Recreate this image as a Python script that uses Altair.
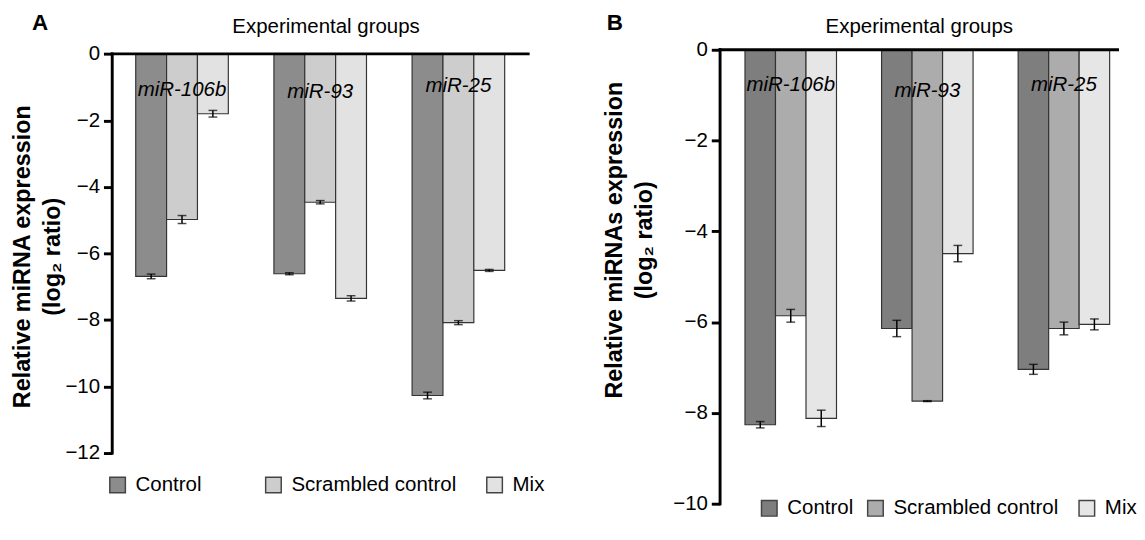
import altair as alt
import pandas as pd

groups = ["miR-106b", "miR-93", "miR-25"]
treatments = ["Control", "Scrambled control", "Mix"]

# Panel A values (log2 ratio) and error half-widths
a_control = [-6.69, -6.61, -10.27]
a_scrambled = [-4.98, -4.46, -8.08]
a_mix = [-1.80, -7.35, -6.51]
a_control_err = [0.07, 0.03, 0.10]
a_scrambled_err = [0.12, 0.05, 0.06]
a_mix_err = [0.10, 0.08, 0.03]
a_label_y = [-1.10, -1.16, -0.96]
a_ticks = [0, -2, -4, -6, -8, -10, -12]

# Panel B values (log2 ratio) and error half-widths
b_control = [-8.26, -6.14, -7.04]
b_scrambled = [-5.86, -7.74, -6.14]
b_mix = [-8.12, -4.49, -6.05]
b_control_err = [0.07, 0.18, 0.11]
b_scrambled_err = [0.14, 0.01, 0.14]
b_mix_err = [0.18, 0.18, 0.12]
b_label_y = [-0.79, -0.91, -0.79]
b_ticks = [0, -2, -4, -6, -8, -10]

a_colors = ["#8c8c8c", "#cdcdcd", "#e2e2e2"]
b_colors = ["#7e7e7e", "#acacac", "#e6e6e6"]

FONT = "Liberation Sans"
NB = "\u00a0"
ZW = "\u200b"


def make_df(ctrl, scr, mix, ce, se, me):
    rows = []
    for vals, errs, t in ((ctrl, ce, treatments[0]), (scr, se, treatments[1]), (mix, me, treatments[2])):
        for g, v, e in zip(groups, vals, errs):
            rows.append({"group": g, "treatment": t, "value": v, "lo": v - e, "hi": v + e})
    return pd.DataFrame(rows)


def panel(df, label_y, colors, ymin, ymax, yticks, ytitle, width, height, xscale,
          ytitle_x, ytitle_y, xtitle_x, xtitle_y, letter, letter_x, letter_y,
          legend_x, legend_y, col_pad, label_expr):
    yscale = alt.Scale(domain=[ymin, ymax], nice=False, zero=False)
    yaxis = alt.Axis(values=yticks, grid=False, domain=False,
                     tickColor="black", tickWidth=3, tickSize=9, labelFontSize=21,
                     labelPadding=4, labelColor="black", labelFont=FONT,
                     title=ytitle, titleFontSize=24, titleFontWeight="bold",
                     titleLineHeight=31, titleX=ytitle_x, titleY=ytitle_y,
                     titleColor="black", titleFont=FONT)
    xaxis = alt.Axis(orient="top", labels=False, ticks=False, domain=False,
                     title="Experimental groups", titleFontSize=21,
                     titleFontWeight="normal", titleX=xtitle_x, titleY=xtitle_y,
                     titleColor="black", titleFont=FONT)
    x = alt.X("group:N", sort=groups, scale=xscale, axis=xaxis)
    xo = alt.XOffset("treatment:N", sort=treatments,
                     scale=alt.Scale(paddingInner=0, paddingOuter=0))
    color = alt.Color("treatment:N", sort=treatments,
                      scale=alt.Scale(domain=treatments, range=colors),
                      legend=alt.Legend(orient="none", legendX=legend_x, legendY=legend_y,
                                        direction="horizontal", title=None,
                                        symbolType="square", symbolSize=256,
                                        symbolStrokeColor="#444444", symbolStrokeWidth=1.5,
                                        labelFontSize=21, labelColor="black",
                                        labelFont=FONT, labelLimit=400,
                                        labelExpr=label_expr,
                                        columnPadding=col_pad, labelOffset=8, padding=0))
    base = alt.Chart(df)
    bars = base.mark_bar(stroke="#333333", strokeWidth=1.2).encode(
        x=x, xOffset=xo,
        y=alt.Y("value:Q", scale=yscale, axis=yaxis), y2=alt.datum(0), color=color)
    rules = base.mark_rule(color="black", strokeWidth=1.5).encode(
        x=x, xOffset=xo, y=alt.Y("lo:Q", scale=yscale, axis=yaxis), y2="hi:Q")
    cap_lo = base.mark_tick(orient="horizontal", size=9, thickness=1.5, color="black").encode(
        x=x, xOffset=xo, y=alt.Y("lo:Q", scale=yscale, axis=yaxis))
    cap_hi = base.mark_tick(orient="horizontal", size=9, thickness=1.5, color="black").encode(
        x=x, xOffset=xo, y=alt.Y("hi:Q", scale=yscale, axis=yaxis))
    lab_df = pd.DataFrame({"group": groups, "label_y": label_y})
    labels = alt.Chart(lab_df).mark_text(fontStyle="italic", fontSize=21, font=FONT,
                                         color="black", baseline="middle").encode(
        x=x, y=alt.Y("label_y:Q", scale=yscale, axis=yaxis), text="group:N")
    one = pd.DataFrame({"letter": [letter]})
    top_line = alt.Chart(one).mark_rule(color="black", strokeWidth=3,
                                        strokeCap="square").encode(y=alt.datum(0))
    left_line = alt.Chart(one).mark_rule(color="black", strokeWidth=3,
                                         strokeCap="square").encode(
        x=alt.value(0), y=alt.datum(0), y2=alt.datum(ymin))
    letter_mark = alt.Chart(one).mark_text(fontWeight="bold", fontSize=23, font=FONT,
                                           color="black", baseline="middle").encode(
        x=alt.value(letter_x), y=alt.value(letter_y), text="letter:N")
    return alt.layer(bars, rules, cap_lo, cap_hi, labels, top_line, left_line,
                     letter_mark).properties(width=width, height=height)


df_a = make_df(a_control, a_scrambled, a_mix, a_control_err, a_scrambled_err, a_mix_err)
df_b = make_df(b_control, b_scrambled, b_mix, b_control_err, b_scrambled_err, b_mix_err)

expr_a = "datum.label == 'Control' ? 'Control" + NB * 6 + ZW + "' : datum.label"
expr_b = "datum.label == 'Scrambled control' ? 'Scrambled control" + NB + ZW + "' : datum.label"

panel_a = panel(df_a, a_label_y, a_colors, -12, 0.123, a_ticks,
                ["Relative miRNA expression", "(log\u2082 ratio)"], 427, 414,
                alt.Scale(paddingInner=0.33, paddingOuter=0.17),
                -80, 212, 219, -14, "A", -74, -27.5, -5, 436, 27, expr_a)

panel_b = panel(df_b, b_label_y, b_colors, -10, 0, b_ticks,
                ["Relative miRNAs expression", "(log\u2082 ratio)"], 408, 466,
                alt.Scale(paddingInner=0.33, paddingOuter=0.12, align=0.76),
                -96, 195, 204, -14, "B", -108, -27.7, 40, 460, 11, expr_b)

chart = alt.hconcat(panel_a, panel_b, spacing=59).resolve_scale(
    x="independent", y="independent", color="independent", xOffset="independent"
).resolve_legend(color="independent").properties(
    padding={"left": 2, "top": -3, "right": 0, "bottom": 0}
).configure(font=FONT).configure_view(strokeWidth=0)

chart.save("out.html", embed_options={"renderer": "svg", "actions": False})
